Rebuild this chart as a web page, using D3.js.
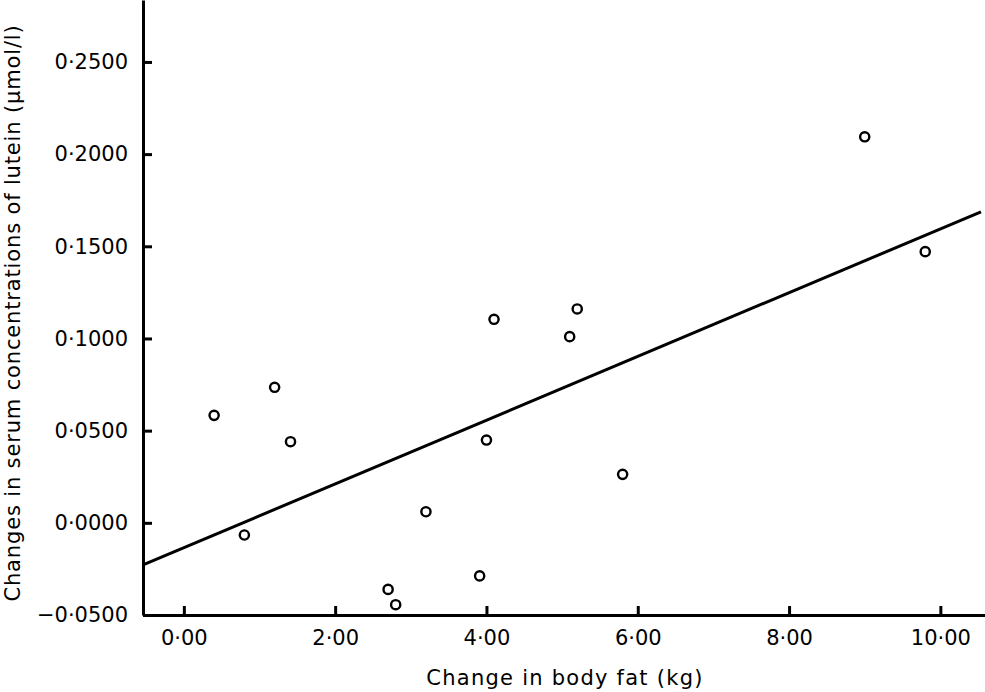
<!DOCTYPE html>
<html>
<head>
<meta charset="utf-8">
<script src="https://cdn.jsdelivr.net/npm/d3@7/dist/d3.min.js"></script>
<style>
  html, body { margin: 0; padding: 0; background: #fff; }
  svg { display: block; }
  .tick text, .title { font-family: "DejaVu Sans", sans-serif; fill: #000; }
</style>
</head>
<body>
<svg id="chart" width="985" height="692"></svg>
<script>
// Data
const bodyFatChange = [0.40, 0.80, 1.20, 1.41, 2.70, 2.80, 3.20, 3.91, 4.00, 4.10, 5.10, 5.20, 5.80, 9.00, 9.80];
const luteinChange  = [0.0583, -0.0066, 0.0735, 0.0440, -0.0361, -0.0444, 0.0060, -0.0288, 0.0449, 0.1104, 0.1010, 0.1160, 0.0263, 0.2094, 0.1471];
const xTickValues = [0, 2, 4, 6, 8, 10];
const yTickValues = [-0.05, 0, 0.05, 0.10, 0.15, 0.20, 0.25];
const fitIntercept = -0.01348;
const fitSlope = 0.01729;
const fitRange = [-0.54, 10.537];

const svg = d3.select("#chart");

const x = d3.scaleLinear().domain([-0.54, 10.59]).range([143, 985]);
const y = d3.scaleLinear().domain([-0.05, 0.2836]).range([615, 0]);

const fmt = (d, p) => d3.format("." + p + "f")(d).replace(".", "\u00B7").replace("-", "\u2212");

// Y axis
const yAxis = d3.axisLeft(y)
  .tickValues(yTickValues)
  .tickSizeInner(-9)
  .tickSizeOuter(0)
  .tickPadding(15)
  .tickFormat(d => fmt(d, 4));
const gy = svg.append("g").attr("transform", "translate(143,0)").call(yAxis);

// X axis
const xAxis = d3.axisBottom(x)
  .tickValues(xTickValues)
  .tickSizeInner(-9)
  .tickSizeOuter(0)
  .tickPadding(15)
  .tickFormat(d => fmt(d, 2));
const gx = svg.append("g").attr("transform", "translate(0,615)").call(xAxis);

[gx, gy].forEach(g => {
  g.selectAll("path.domain").attr("stroke", "#000").attr("stroke-width", 3);
  g.selectAll(".tick line").attr("stroke", "#000").attr("stroke-width", 3);
  g.selectAll(".tick text").attr("font-size", 21).attr("font-family", "DejaVu Sans, sans-serif");
});

// Regression line
const line = d3.line().x(d => x(d)).y(d => y(fitIntercept + fitSlope * d));
svg.append("path")
  .datum(fitRange)
  .attr("d", line)
  .attr("fill", "none")
  .attr("stroke", "#000")
  .attr("stroke-width", 3);

// Points
svg.append("g").selectAll("circle")
  .data(bodyFatChange.map((v, i) => [v, luteinChange[i]]))
  .join("circle")
  .attr("cx", d => x(d[0]))
  .attr("cy", d => y(d[1]))
  .attr("r", 4.6)
  .attr("fill", "#fff")
  .attr("stroke", "#000")
  .attr("stroke-width", 2.4);

// Axis titles
svg.append("text")
  .attr("class", "title")
  .attr("x", 565).attr("y", 685)
  .attr("text-anchor", "middle")
  .attr("font-size", 21)
  .attr("letter-spacing", 1.25)
  .text("Change in body fat (kg)");

svg.append("text")
  .attr("class", "title")
  .attr("transform", "translate(20,313) rotate(-90)")
  .attr("text-anchor", "middle")
  .attr("font-size", 21)
  .attr("letter-spacing", 0.85)
  .text("Changes in serum concentrations of lutein (\u03BCmol/l)");
</script>
</body>
</html>
